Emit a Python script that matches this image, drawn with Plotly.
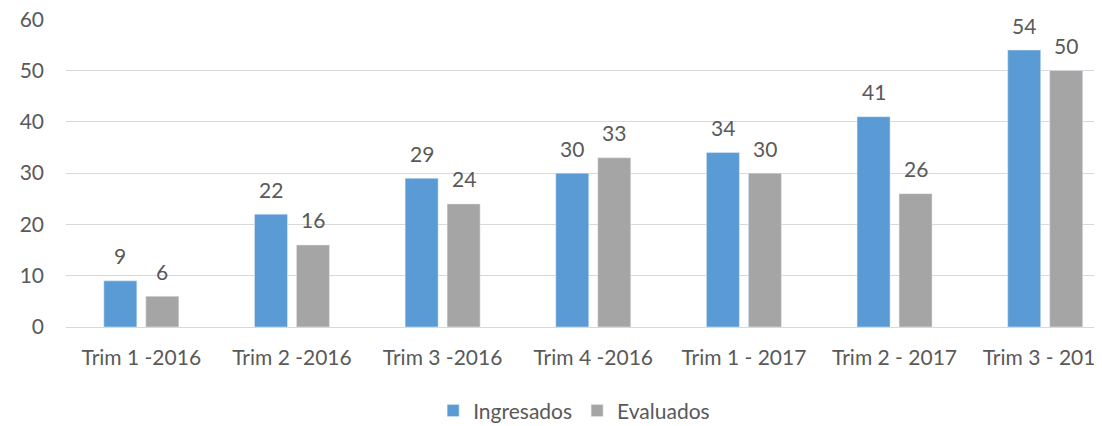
import plotly.graph_objects as go

categories = ["Trim 1 -2016", "Trim 2 -2016", "Trim 3 -2016", "Trim 4 -2016",
              "Trim 1 - 2017", "Trim 2 - 2017", "Trim 3 - 2017"]
ingresados = [9, 22, 29, 30, 34, 41, 54]
evaluados = [6, 16, 24, 33, 30, 26, 50]
y_ticks = [0, 10, 20, 30, 40, 50, 60]

FONT = "Lato"
TXT = "#595959"
FS = 21

fig = go.Figure()
fig.add_trace(go.Bar(name="Ingresados", x=categories, y=ingresados,
                     marker_color="#5B9BD5"))
fig.add_trace(go.Bar(name="Evaluados", x=categories, y=evaluados,
                     marker_color="#A5A5A5"))

for vals, dx in ((ingresados, -21), (evaluados, 21)):
    for c, v in zip(categories, vals):
        fig.add_annotation(x=c, y=v, text=str(v), showarrow=False,
                           xshift=dx, yshift=25, yanchor="middle",
                           font=dict(size=FS, color=TXT, family=FONT))

fig.update_layout(
    width=1094, height=418,
    margin=dict(l=58, r=0, t=11, b=99, autoexpand=False),
    paper_bgcolor="white", plot_bgcolor="white",
    barmode="group", bargap=0.4426, bargroupgap=0.214,
    font=dict(family=FONT, size=FS, color=TXT),
    showlegend=True,
    legend=dict(orientation="h", xref="container", yref="container",
                x=0.5175, xanchor="center", y=0.036, yanchor="middle",
                font=dict(size=FS, color=TXT, family=FONT), itemwidth=30,
                traceorder="normal"),
    xaxis=dict(range=[-0.5, 6.377], showgrid=False, showline=False, ticks="",
               ticklabelstandoff=16, ticklabeloverflow="allow", automargin=False,
               tickfont=dict(size=FS, color=TXT, family=FONT)),
    yaxis=dict(range=[0, 60.05], tickvals=y_ticks, showgrid=True, gridcolor="#D9D9D9",
               gridwidth=1, zeroline=True, zerolinecolor="#D9D9D9", zerolinewidth=1,
               ticks="", ticklabelstandoff=21, ticklabeloverflow="allow", automargin=False,
               tickfont=dict(size=FS, color=TXT, family=FONT)),
)
fig.write_html("out.html")
